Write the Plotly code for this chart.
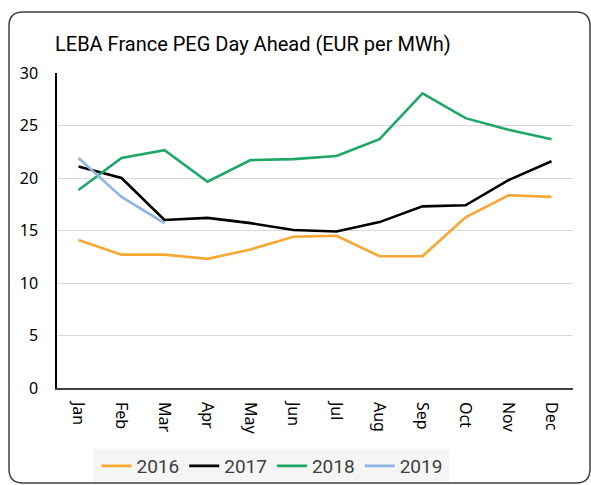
import plotly.graph_objects as go

months = ["Jan", "Feb", "Mar", "Apr", "May", "Jun", "Jul", "Aug", "Sep", "Oct", "Nov", "Dec"]
y2016 = [14.1, 12.7, 12.7, 12.3, 13.2, 14.4, 14.5, 12.55, 12.55, 16.25, 18.35, 18.2]
y2017 = [21.1, 20.0, 16.0, 16.2, 15.7, 15.05, 14.9, 15.8, 17.3, 17.4, 19.8, 21.6]
y2018 = [18.85, 21.9, 22.65, 19.65, 21.7, 21.8, 22.1, 23.7, 28.05, 25.7, 24.6, 23.7]
y2019 = [21.9, 18.2, 15.7]
series = [("2016", y2016, "#F8A733"), ("2017", y2017, "#000000"),
          ("2018", y2018, "#1EA765"), ("2019", y2019, "#8DB4E2")]

fig = go.Figure()
for name, vals, col in series:
    fig.add_trace(go.Scatter(x=months[:len(vals)], y=vals, name=name, mode="lines",
                             line=dict(color=col, width=2.6)))

# plot area geometry (px) for border shape
L, R, T, B = 57, 573, 73, 388
W, H = R - L, B - T
def px(x): return (x - L) / W
def py(y): return (B - y) / H
x0, x1, y0, y1, r = 9, 590, 12, 483, 14
path = (f"M {px(x0)} {py(y0 + r)} Q {px(x0)} {py(y0)} {px(x0 + r)} {py(y0)} "
        f"L {px(x1 - r)} {py(y0)} Q {px(x1)} {py(y0)} {px(x1)} {py(y0 + r)} "
        f"L {px(x1)} {py(y1 - r)} Q {px(x1)} {py(y1)} {px(x1 - r)} {py(y1)} "
        f"L {px(x0 + r)} {py(y1)} Q {px(x0)} {py(y1)} {px(x0)} {py(y1 - r)} Z")

fig.update_layout(
    width=591, height=485,
    margin=dict(l=L, r=591 - R, t=T, b=485 - B, autoexpand=False),
    paper_bgcolor="white", plot_bgcolor="white",
    font=dict(family="Roboto, Noto Sans, sans-serif", color="#000000"),
    title=dict(text="LEBA France PEG Day Ahead (EUR per MWh)", x=55 / 591, xanchor="left",
               y=1 - 44 / 485, yanchor="middle", font=dict(size=20, color="#000000")),
    xaxis=dict(showgrid=False, showline=True, linecolor="#404040", linewidth=1.5,
               range=[-0.5, 11.5], automargin=False,
               tickangle=90, tickfont=dict(size=16, family="Noto Sans, sans-serif"), ticks="",
               ticklabelstandoff=9),
    yaxis=dict(range=[0, 30], dtick=5, showgrid=True, gridcolor="#D9D9D9", gridwidth=1.2,
               showline=True, linecolor="#000000", linewidth=1.5, zeroline=False,
               automargin=False,
               tickfont=dict(size=16, family="Noto Sans, sans-serif"), ticks="",
               ticklabelstandoff=14),
    legend=dict(orientation="h", x=272 / 591, xref="container", xanchor="center",
                y=1 - 466 / 485, yref="container", yanchor="middle",
                bgcolor="rgba(0,0,0,0)", font=dict(size=19, color="#404040"),
                itemwidth=30, tracegroupgap=0),
    shapes=[dict(type="rect", x0=px(93), x1=px(449), y0=py(449), y1=py(483),
                 xref="paper", yref="paper", fillcolor="#F5F5F5", line=dict(width=0),
                 layer="below"),
            dict(type="path", path=path, xref="paper", yref="paper",
                 line=dict(color="#404040", width=1.5), layer="above")],
    showlegend=True,
)
fig.write_html("out.html", config={"displayModeBar": False},
               post_script="document.body.style.margin='0';document.body.style.overflow='hidden';")
